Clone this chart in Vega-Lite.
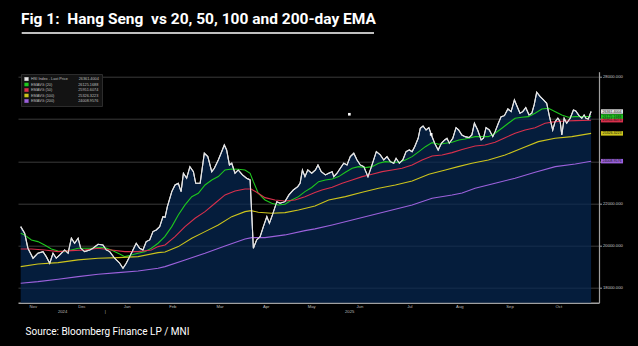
{
  "$schema": "https://vega.github.io/schema/vega-lite/v6.json",
  "width": 581,
  "height": 231,
  "autosize": {"type": "none"},
  "padding": {"left": 18, "top": 71.7, "right": 39, "bottom": 43.3},
  "background": "#000000",
  "title": {
    "text": "Fig 1:\u00a0 Hang Seng\u00a0 vs 20, 50, 100 and 200-day EMA",
    "anchor": "start",
    "frame": "group",
    "color": "#ffffff",
    "font": "Roboto",
    "fontSize": 15.5,
    "fontWeight": "bold",
    "baseline": "alphabetic",
    "offset": 3,
    "dx": 3,
    "dy": 10
  },
  "config": {
    "view": {"stroke": null},
    "axis": {"labelFont": "Liberation Sans", "gridWidth": 0.8, "labelOverlap": false}
  },
  "datasets": {
    "prices": [
      {"d": 0.3, "v": 20906, "s": "HSI Index - Last Price"},
      {"d": 2.0, "v": 20592, "s": "HSI Index - Last Price"},
      {"d": 3.4, "v": 19882, "s": "HSI Index - Last Price"},
      {"d": 5.6, "v": 19408, "s": "HSI Index - Last Price"},
      {"d": 7.7, "v": 19645, "s": "HSI Index - Last Price"},
      {"d": 9.9, "v": 19721, "s": "HSI Index - Last Price"},
      {"d": 11.3, "v": 19484, "s": "HSI Index - Last Price"},
      {"d": 12.8, "v": 19171, "s": "HSI Index - Last Price"},
      {"d": 14.2, "v": 19645, "s": "HSI Index - Last Price"},
      {"d": 15.6, "v": 19408, "s": "HSI Index - Last Price"},
      {"d": 17.1, "v": 19564, "s": "HSI Index - Last Price"},
      {"d": 19.2, "v": 19801, "s": "HSI Index - Last Price"},
      {"d": 20.7, "v": 19645, "s": "HSI Index - Last Price"},
      {"d": 22.1, "v": 20356, "s": "HSI Index - Last Price"},
      {"d": 23.5, "v": 20119, "s": "HSI Index - Last Price"},
      {"d": 25.0, "v": 20356, "s": "HSI Index - Last Price"},
      {"d": 26.1, "v": 19882, "s": "HSI Index - Last Price"},
      {"d": 27.8, "v": 19721, "s": "HSI Index - Last Price"},
      {"d": 30.0, "v": 19801, "s": "HSI Index - Last Price"},
      {"d": 31.4, "v": 19882, "s": "HSI Index - Last Price"},
      {"d": 33.6, "v": 20072, "s": "HSI Index - Last Price"},
      {"d": 35.7, "v": 20038, "s": "HSI Index - Last Price"},
      {"d": 37.1, "v": 19801, "s": "HSI Index - Last Price"},
      {"d": 38.6, "v": 19721, "s": "HSI Index - Last Price"},
      {"d": 40.7, "v": 19408, "s": "HSI Index - Last Price"},
      {"d": 42.9, "v": 19171, "s": "HSI Index - Last Price"},
      {"d": 44.3, "v": 18934, "s": "HSI Index - Last Price"},
      {"d": 45.7, "v": 19171, "s": "HSI Index - Last Price"},
      {"d": 47.9, "v": 19645, "s": "HSI Index - Last Price"},
      {"d": 50.0, "v": 20119, "s": "HSI Index - Last Price"},
      {"d": 51.5, "v": 19882, "s": "HSI Index - Last Price"},
      {"d": 52.9, "v": 19801, "s": "HSI Index - Last Price"},
      {"d": 54.3, "v": 20195, "s": "HSI Index - Last Price"},
      {"d": 55.8, "v": 20275, "s": "HSI Index - Last Price"},
      {"d": 57.2, "v": 20669, "s": "HSI Index - Last Price"},
      {"d": 58.6, "v": 20749, "s": "HSI Index - Last Price"},
      {"d": 60.1, "v": 20906, "s": "HSI Index - Last Price"},
      {"d": 61.5, "v": 21380, "s": "HSI Index - Last Price"},
      {"d": 62.4, "v": 21350, "s": "HSI Index - Last Price"},
      {"d": 63.4, "v": 21854, "s": "HSI Index - Last Price"},
      {"d": 65.3, "v": 22565, "s": "HSI Index - Last Price"},
      {"d": 66.7, "v": 22882, "s": "HSI Index - Last Price"},
      {"d": 68.1, "v": 22962, "s": "HSI Index - Last Price"},
      {"d": 69.3, "v": 22565, "s": "HSI Index - Last Price"},
      {"d": 70.3, "v": 23436, "s": "HSI Index - Last Price"},
      {"d": 71.7, "v": 23199, "s": "HSI Index - Last Price"},
      {"d": 73.1, "v": 23749, "s": "HSI Index - Last Price"},
      {"d": 74.6, "v": 23512, "s": "HSI Index - Last Price"},
      {"d": 75.6, "v": 22962, "s": "HSI Index - Last Price"},
      {"d": 77.5, "v": 22962, "s": "HSI Index - Last Price"},
      {"d": 79.3, "v": 24384, "s": "HSI Index - Last Price"},
      {"d": 80.8, "v": 24223, "s": "HSI Index - Last Price"},
      {"d": 82.5, "v": 23512, "s": "HSI Index - Last Price"},
      {"d": 83.6, "v": 23673, "s": "HSI Index - Last Price"},
      {"d": 85.3, "v": 24067, "s": "HSI Index - Last Price"},
      {"d": 86.5, "v": 24384, "s": "HSI Index - Last Price"},
      {"d": 87.9, "v": 24778, "s": "HSI Index - Last Price"},
      {"d": 88.9, "v": 24541, "s": "HSI Index - Last Price"},
      {"d": 90.1, "v": 23830, "s": "HSI Index - Last Price"},
      {"d": 91.1, "v": 23910, "s": "HSI Index - Last Price"},
      {"d": 92.5, "v": 23436, "s": "HSI Index - Last Price"},
      {"d": 93.9, "v": 23593, "s": "HSI Index - Last Price"},
      {"d": 95.7, "v": 23356, "s": "HSI Index - Last Price"},
      {"d": 97.5, "v": 23199, "s": "HSI Index - Last Price"},
      {"d": 99.0, "v": 23119, "s": "HSI Index - Last Price"},
      {"d": 100.4, "v": 19882, "s": "HSI Index - Last Price"},
      {"d": 101.8, "v": 20275, "s": "HSI Index - Last Price"},
      {"d": 103.3, "v": 20432, "s": "HSI Index - Last Price"},
      {"d": 104.7, "v": 20906, "s": "HSI Index - Last Price"},
      {"d": 106.2, "v": 21380, "s": "HSI Index - Last Price"},
      {"d": 107.3, "v": 21067, "s": "HSI Index - Last Price"},
      {"d": 108.6, "v": 21460, "s": "HSI Index - Last Price"},
      {"d": 110.5, "v": 22090, "s": "HSI Index - Last Price"},
      {"d": 111.9, "v": 22015, "s": "HSI Index - Last Price"},
      {"d": 114.0, "v": 22090, "s": "HSI Index - Last Price"},
      {"d": 115.7, "v": 22408, "s": "HSI Index - Last Price"},
      {"d": 117.6, "v": 22645, "s": "HSI Index - Last Price"},
      {"d": 119.5, "v": 22801, "s": "HSI Index - Last Price"},
      {"d": 120.5, "v": 22962, "s": "HSI Index - Last Price"},
      {"d": 121.5, "v": 23593, "s": "HSI Index - Last Price"},
      {"d": 122.6, "v": 23277, "s": "HSI Index - Last Price"},
      {"d": 123.8, "v": 23593, "s": "HSI Index - Last Price"},
      {"d": 125.5, "v": 23436, "s": "HSI Index - Last Price"},
      {"d": 127.1, "v": 23593, "s": "HSI Index - Last Price"},
      {"d": 128.2, "v": 23830, "s": "HSI Index - Last Price"},
      {"d": 129.6, "v": 23512, "s": "HSI Index - Last Price"},
      {"d": 131.4, "v": 23356, "s": "HSI Index - Last Price"},
      {"d": 132.8, "v": 23436, "s": "HSI Index - Last Price"},
      {"d": 134.3, "v": 23512, "s": "HSI Index - Last Price"},
      {"d": 135.0, "v": 23277, "s": "HSI Index - Last Price"},
      {"d": 136.4, "v": 23436, "s": "HSI Index - Last Price"},
      {"d": 137.8, "v": 23673, "s": "HSI Index - Last Price"},
      {"d": 139.3, "v": 23910, "s": "HSI Index - Last Price"},
      {"d": 140.7, "v": 23830, "s": "HSI Index - Last Price"},
      {"d": 142.1, "v": 24223, "s": "HSI Index - Last Price"},
      {"d": 143.6, "v": 24384, "s": "HSI Index - Last Price"},
      {"d": 145.0, "v": 24067, "s": "HSI Index - Last Price"},
      {"d": 146.4, "v": 23830, "s": "HSI Index - Last Price"},
      {"d": 147.9, "v": 23749, "s": "HSI Index - Last Price"},
      {"d": 149.7, "v": 23277, "s": "HSI Index - Last Price"},
      {"d": 151.2, "v": 23749, "s": "HSI Index - Last Price"},
      {"d": 153.3, "v": 24462, "s": "HSI Index - Last Price"},
      {"d": 155.0, "v": 24304, "s": "HSI Index - Last Price"},
      {"d": 156.5, "v": 24067, "s": "HSI Index - Last Price"},
      {"d": 157.9, "v": 24223, "s": "HSI Index - Last Price"},
      {"d": 159.3, "v": 23986, "s": "HSI Index - Last Price"},
      {"d": 160.8, "v": 23910, "s": "HSI Index - Last Price"},
      {"d": 161.8, "v": 24146, "s": "HSI Index - Last Price"},
      {"d": 163.2, "v": 23910, "s": "HSI Index - Last Price"},
      {"d": 164.7, "v": 24067, "s": "HSI Index - Last Price"},
      {"d": 166.1, "v": 24462, "s": "HSI Index - Last Price"},
      {"d": 167.5, "v": 24541, "s": "HSI Index - Last Price"},
      {"d": 168.7, "v": 24462, "s": "HSI Index - Last Price"},
      {"d": 169.8, "v": 24697, "s": "HSI Index - Last Price"},
      {"d": 171.3, "v": 25095, "s": "HSI Index - Last Price"},
      {"d": 172.2, "v": 25569, "s": "HSI Index - Last Price"},
      {"d": 173.4, "v": 25678, "s": "HSI Index - Last Price"},
      {"d": 174.7, "v": 25488, "s": "HSI Index - Last Price"},
      {"d": 175.9, "v": 25597, "s": "HSI Index - Last Price"},
      {"d": 177.0, "v": 25251, "s": "HSI Index - Last Price"},
      {"d": 178.4, "v": 24858, "s": "HSI Index - Last Price"},
      {"d": 179.9, "v": 24541, "s": "HSI Index - Last Price"},
      {"d": 181.3, "v": 24858, "s": "HSI Index - Last Price"},
      {"d": 182.7, "v": 25014, "s": "HSI Index - Last Price"},
      {"d": 183.7, "v": 25095, "s": "HSI Index - Last Price"},
      {"d": 184.7, "v": 24858, "s": "HSI Index - Last Price"},
      {"d": 186.2, "v": 25095, "s": "HSI Index - Last Price"},
      {"d": 187.6, "v": 25597, "s": "HSI Index - Last Price"},
      {"d": 188.7, "v": 25488, "s": "HSI Index - Last Price"},
      {"d": 190.1, "v": 25251, "s": "HSI Index - Last Price"},
      {"d": 191.5, "v": 25172, "s": "HSI Index - Last Price"},
      {"d": 193.2, "v": 25124, "s": "HSI Index - Last Price"},
      {"d": 194.4, "v": 25251, "s": "HSI Index - Last Price"},
      {"d": 195.5, "v": 25806, "s": "HSI Index - Last Price"},
      {"d": 196.9, "v": 25488, "s": "HSI Index - Last Price"},
      {"d": 198.4, "v": 25014, "s": "HSI Index - Last Price"},
      {"d": 199.4, "v": 25095, "s": "HSI Index - Last Price"},
      {"d": 200.5, "v": 25597, "s": "HSI Index - Last Price"},
      {"d": 201.9, "v": 25488, "s": "HSI Index - Last Price"},
      {"d": 203.4, "v": 25172, "s": "HSI Index - Last Price"},
      {"d": 204.4, "v": 25408, "s": "HSI Index - Last Price"},
      {"d": 205.8, "v": 25806, "s": "HSI Index - Last Price"},
      {"d": 207.0, "v": 26119, "s": "HSI Index - Last Price"},
      {"d": 208.4, "v": 26166, "s": "HSI Index - Last Price"},
      {"d": 209.9, "v": 26483, "s": "HSI Index - Last Price"},
      {"d": 211.3, "v": 26356, "s": "HSI Index - Last Price"},
      {"d": 212.7, "v": 26910, "s": "HSI Index - Last Price"},
      {"d": 214.2, "v": 26517, "s": "HSI Index - Last Price"},
      {"d": 215.1, "v": 26280, "s": "HSI Index - Last Price"},
      {"d": 216.3, "v": 26356, "s": "HSI Index - Last Price"},
      {"d": 217.6, "v": 26545, "s": "HSI Index - Last Price"},
      {"d": 219.0, "v": 26199, "s": "HSI Index - Last Price"},
      {"d": 220.2, "v": 26280, "s": "HSI Index - Last Price"},
      {"d": 221.2, "v": 26673, "s": "HSI Index - Last Price"},
      {"d": 222.3, "v": 27275, "s": "HSI Index - Last Price"},
      {"d": 223.8, "v": 27066, "s": "HSI Index - Last Price"},
      {"d": 225.2, "v": 26910, "s": "HSI Index - Last Price"},
      {"d": 226.6, "v": 26754, "s": "HSI Index - Last Price"},
      {"d": 227.8, "v": 26119, "s": "HSI Index - Last Price"},
      {"d": 229.2, "v": 25488, "s": "HSI Index - Last Price"},
      {"d": 230.2, "v": 25882, "s": "HSI Index - Last Price"},
      {"d": 231.4, "v": 26043, "s": "HSI Index - Last Price"},
      {"d": 232.4, "v": 25882, "s": "HSI Index - Last Price"},
      {"d": 233.1, "v": 25251, "s": "HSI Index - Last Price"},
      {"d": 234.1, "v": 26043, "s": "HSI Index - Last Price"},
      {"d": 235.2, "v": 25806, "s": "HSI Index - Last Price"},
      {"d": 236.7, "v": 26043, "s": "HSI Index - Last Price"},
      {"d": 238.1, "v": 26436, "s": "HSI Index - Last Price"},
      {"d": 239.1, "v": 26388, "s": "HSI Index - Last Price"},
      {"d": 240.5, "v": 26166, "s": "HSI Index - Last Price"},
      {"d": 241.7, "v": 26043, "s": "HSI Index - Last Price"},
      {"d": 242.7, "v": 26199, "s": "HSI Index - Last Price"},
      {"d": 243.5, "v": 26043, "s": "HSI Index - Last Price"},
      {"d": 244.5, "v": 26009, "s": "HSI Index - Last Price"},
      {"d": 245.7, "v": 26361, "s": "HSI Index - Last Price"},

      {"d": 0.3, "v": 20592, "s": "EMAVG (20)"},
      {"d": 2.0, "v": 20513, "s": "EMAVG (20)"},
      {"d": 4.9, "v": 20275, "s": "EMAVG (20)"},
      {"d": 7.7, "v": 20195, "s": "EMAVG (20)"},
      {"d": 10.6, "v": 20038, "s": "EMAVG (20)"},
      {"d": 13.5, "v": 19849, "s": "EMAVG (20)"},
      {"d": 16.4, "v": 19754, "s": "EMAVG (20)"},
      {"d": 19.2, "v": 19721, "s": "EMAVG (20)"},
      {"d": 22.1, "v": 19801, "s": "EMAVG (20)"},
      {"d": 25.0, "v": 19882, "s": "EMAVG (20)"},
      {"d": 27.8, "v": 19882, "s": "EMAVG (20)"},
      {"d": 30.7, "v": 19882, "s": "EMAVG (20)"},
      {"d": 33.6, "v": 19910, "s": "EMAVG (20)"},
      {"d": 36.4, "v": 19910, "s": "EMAVG (20)"},
      {"d": 39.3, "v": 19801, "s": "EMAVG (20)"},
      {"d": 42.2, "v": 19645, "s": "EMAVG (20)"},
      {"d": 45.1, "v": 19484, "s": "EMAVG (20)"},
      {"d": 47.9, "v": 19564, "s": "EMAVG (20)"},
      {"d": 50.8, "v": 19645, "s": "EMAVG (20)"},
      {"d": 53.7, "v": 19721, "s": "EMAVG (20)"},
      {"d": 56.5, "v": 19882, "s": "EMAVG (20)"},
      {"d": 59.4, "v": 20119, "s": "EMAVG (20)"},
      {"d": 62.3, "v": 20432, "s": "EMAVG (20)"},
      {"d": 65.3, "v": 20906, "s": "EMAVG (20)"},
      {"d": 68.1, "v": 21460, "s": "EMAVG (20)"},
      {"d": 71.0, "v": 21934, "s": "EMAVG (20)"},
      {"d": 73.9, "v": 22327, "s": "EMAVG (20)"},
      {"d": 76.7, "v": 22488, "s": "EMAVG (20)"},
      {"d": 79.6, "v": 22882, "s": "EMAVG (20)"},
      {"d": 82.5, "v": 23119, "s": "EMAVG (20)"},
      {"d": 85.3, "v": 23277, "s": "EMAVG (20)"},
      {"d": 88.2, "v": 23593, "s": "EMAVG (20)"},
      {"d": 91.1, "v": 23640, "s": "EMAVG (20)"},
      {"d": 93.9, "v": 23626, "s": "EMAVG (20)"},
      {"d": 96.8, "v": 23593, "s": "EMAVG (20)"},
      {"d": 99.0, "v": 23436, "s": "EMAVG (20)"},
      {"d": 100.4, "v": 23038, "s": "EMAVG (20)"},
      {"d": 102.5, "v": 22488, "s": "EMAVG (20)"},
      {"d": 105.4, "v": 22171, "s": "EMAVG (20)"},
      {"d": 108.3, "v": 22015, "s": "EMAVG (20)"},
      {"d": 111.1, "v": 21934, "s": "EMAVG (20)"},
      {"d": 114.0, "v": 21967, "s": "EMAVG (20)"},
      {"d": 116.9, "v": 22171, "s": "EMAVG (20)"},
      {"d": 119.8, "v": 22327, "s": "EMAVG (20)"},
      {"d": 122.6, "v": 22565, "s": "EMAVG (20)"},
      {"d": 125.5, "v": 22760, "s": "EMAVG (20)"},
      {"d": 128.5, "v": 23038, "s": "EMAVG (20)"},
      {"d": 131.4, "v": 23119, "s": "EMAVG (20)"},
      {"d": 134.3, "v": 23166, "s": "EMAVG (20)"},
      {"d": 137.1, "v": 23277, "s": "EMAVG (20)"},
      {"d": 140.0, "v": 23484, "s": "EMAVG (20)"},
      {"d": 142.9, "v": 23673, "s": "EMAVG (20)"},
      {"d": 145.7, "v": 23749, "s": "EMAVG (20)"},
      {"d": 148.6, "v": 23702, "s": "EMAVG (20)"},
      {"d": 151.5, "v": 23749, "s": "EMAVG (20)"},
      {"d": 154.3, "v": 23910, "s": "EMAVG (20)"},
      {"d": 157.2, "v": 23986, "s": "EMAVG (20)"},
      {"d": 160.1, "v": 23957, "s": "EMAVG (20)"},
      {"d": 162.9, "v": 23957, "s": "EMAVG (20)"},
      {"d": 165.8, "v": 24067, "s": "EMAVG (20)"},
      {"d": 168.7, "v": 24223, "s": "EMAVG (20)"},
      {"d": 171.6, "v": 24462, "s": "EMAVG (20)"},
      {"d": 174.4, "v": 24697, "s": "EMAVG (20)"},
      {"d": 177.3, "v": 24887, "s": "EMAVG (20)"},
      {"d": 180.2, "v": 24811, "s": "EMAVG (20)"},
      {"d": 183.0, "v": 24858, "s": "EMAVG (20)"},
      {"d": 185.9, "v": 24906, "s": "EMAVG (20)"},
      {"d": 188.8, "v": 25014, "s": "EMAVG (20)"},
      {"d": 191.5, "v": 25062, "s": "EMAVG (20)"},
      {"d": 192.9, "v": 25095, "s": "EMAVG (20)"},
      {"d": 195.8, "v": 25172, "s": "EMAVG (20)"},
      {"d": 198.7, "v": 25172, "s": "EMAVG (20)"},
      {"d": 201.5, "v": 25172, "s": "EMAVG (20)"},
      {"d": 204.4, "v": 25332, "s": "EMAVG (20)"},
      {"d": 207.3, "v": 25569, "s": "EMAVG (20)"},
      {"d": 210.1, "v": 25806, "s": "EMAVG (20)"},
      {"d": 213.0, "v": 26043, "s": "EMAVG (20)"},
      {"d": 215.9, "v": 26090, "s": "EMAVG (20)"},
      {"d": 218.7, "v": 26119, "s": "EMAVG (20)"},
      {"d": 221.6, "v": 26280, "s": "EMAVG (20)"},
      {"d": 224.5, "v": 26483, "s": "EMAVG (20)"},
      {"d": 227.4, "v": 26517, "s": "EMAVG (20)"},
      {"d": 230.3, "v": 26356, "s": "EMAVG (20)"},
      {"d": 233.1, "v": 26199, "s": "EMAVG (20)"},
      {"d": 235.9, "v": 26090, "s": "EMAVG (20)"},
      {"d": 238.8, "v": 26119, "s": "EMAVG (20)"},
      {"d": 241.7, "v": 26119, "s": "EMAVG (20)"},
      {"d": 245.7, "v": 26125, "s": "EMAVG (20)"},

      {"d": 0.3, "v": 19849, "s": "EMAVG (50)"},
      {"d": 4.9, "v": 19849, "s": "EMAVG (50)"},
      {"d": 10.6, "v": 19801, "s": "EMAVG (50)"},
      {"d": 16.4, "v": 19721, "s": "EMAVG (50)"},
      {"d": 22.1, "v": 19770, "s": "EMAVG (50)"},
      {"d": 27.8, "v": 19801, "s": "EMAVG (50)"},
      {"d": 33.6, "v": 19882, "s": "EMAVG (50)"},
      {"d": 39.3, "v": 19801, "s": "EMAVG (50)"},
      {"d": 45.1, "v": 19721, "s": "EMAVG (50)"},
      {"d": 50.8, "v": 19721, "s": "EMAVG (50)"},
      {"d": 56.5, "v": 19801, "s": "EMAVG (50)"},
      {"d": 59.4, "v": 19958, "s": "EMAVG (50)"},
      {"d": 62.4, "v": 20038, "s": "EMAVG (50)"},
      {"d": 66.7, "v": 20432, "s": "EMAVG (50)"},
      {"d": 71.0, "v": 20906, "s": "EMAVG (50)"},
      {"d": 75.3, "v": 21303, "s": "EMAVG (50)"},
      {"d": 79.6, "v": 21617, "s": "EMAVG (50)"},
      {"d": 83.9, "v": 22015, "s": "EMAVG (50)"},
      {"d": 88.2, "v": 22408, "s": "EMAVG (50)"},
      {"d": 92.5, "v": 22597, "s": "EMAVG (50)"},
      {"d": 96.8, "v": 22692, "s": "EMAVG (50)"},
      {"d": 99.4, "v": 22692, "s": "EMAVG (50)"},
      {"d": 102.5, "v": 22488, "s": "EMAVG (50)"},
      {"d": 105.4, "v": 22280, "s": "EMAVG (50)"},
      {"d": 109.7, "v": 22171, "s": "EMAVG (50)"},
      {"d": 114.0, "v": 22124, "s": "EMAVG (50)"},
      {"d": 118.3, "v": 22171, "s": "EMAVG (50)"},
      {"d": 122.6, "v": 22327, "s": "EMAVG (50)"},
      {"d": 126.9, "v": 22520, "s": "EMAVG (50)"},
      {"d": 129.9, "v": 22645, "s": "EMAVG (50)"},
      {"d": 134.3, "v": 22772, "s": "EMAVG (50)"},
      {"d": 138.6, "v": 22962, "s": "EMAVG (50)"},
      {"d": 142.9, "v": 23119, "s": "EMAVG (50)"},
      {"d": 147.2, "v": 23277, "s": "EMAVG (50)"},
      {"d": 151.5, "v": 23389, "s": "EMAVG (50)"},
      {"d": 155.8, "v": 23512, "s": "EMAVG (50)"},
      {"d": 160.1, "v": 23593, "s": "EMAVG (50)"},
      {"d": 164.4, "v": 23673, "s": "EMAVG (50)"},
      {"d": 168.7, "v": 23830, "s": "EMAVG (50)"},
      {"d": 173.0, "v": 24067, "s": "EMAVG (50)"},
      {"d": 177.3, "v": 24256, "s": "EMAVG (50)"},
      {"d": 181.6, "v": 24304, "s": "EMAVG (50)"},
      {"d": 185.9, "v": 24413, "s": "EMAVG (50)"},
      {"d": 190.2, "v": 24560, "s": "EMAVG (50)"},
      {"d": 195.8, "v": 24730, "s": "EMAVG (50)"},
      {"d": 200.1, "v": 24778, "s": "EMAVG (50)"},
      {"d": 204.4, "v": 24906, "s": "EMAVG (50)"},
      {"d": 208.7, "v": 25124, "s": "EMAVG (50)"},
      {"d": 213.0, "v": 25332, "s": "EMAVG (50)"},
      {"d": 217.3, "v": 25488, "s": "EMAVG (50)"},
      {"d": 221.6, "v": 25597, "s": "EMAVG (50)"},
      {"d": 225.9, "v": 25806, "s": "EMAVG (50)"},
      {"d": 230.3, "v": 25882, "s": "EMAVG (50)"},
      {"d": 234.6, "v": 25915, "s": "EMAVG (50)"},
      {"d": 238.9, "v": 25929, "s": "EMAVG (50)"},
      {"d": 245.7, "v": 25952, "s": "EMAVG (50)"},

      {"d": 0.3, "v": 19010, "s": "EMAVG (100)"},
      {"d": 7.7, "v": 19138, "s": "EMAVG (100)"},
      {"d": 16.4, "v": 19200, "s": "EMAVG (100)"},
      {"d": 25.0, "v": 19328, "s": "EMAVG (100)"},
      {"d": 33.6, "v": 19408, "s": "EMAVG (100)"},
      {"d": 42.2, "v": 19437, "s": "EMAVG (100)"},
      {"d": 50.8, "v": 19484, "s": "EMAVG (100)"},
      {"d": 59.4, "v": 19673, "s": "EMAVG (100)"},
      {"d": 62.4, "v": 19700, "s": "EMAVG (100)"},
      {"d": 68.1, "v": 19958, "s": "EMAVG (100)"},
      {"d": 73.9, "v": 20356, "s": "EMAVG (100)"},
      {"d": 79.6, "v": 20669, "s": "EMAVG (100)"},
      {"d": 85.3, "v": 20986, "s": "EMAVG (100)"},
      {"d": 91.1, "v": 21380, "s": "EMAVG (100)"},
      {"d": 96.8, "v": 21617, "s": "EMAVG (100)"},
      {"d": 99.4, "v": 21664, "s": "EMAVG (100)"},
      {"d": 102.5, "v": 21588, "s": "EMAVG (100)"},
      {"d": 108.3, "v": 21540, "s": "EMAVG (100)"},
      {"d": 114.0, "v": 21570, "s": "EMAVG (100)"},
      {"d": 119.8, "v": 21697, "s": "EMAVG (100)"},
      {"d": 126.9, "v": 21887, "s": "EMAVG (100)"},
      {"d": 132.8, "v": 22171, "s": "EMAVG (100)"},
      {"d": 140.0, "v": 22327, "s": "EMAVG (100)"},
      {"d": 147.2, "v": 22535, "s": "EMAVG (100)"},
      {"d": 154.3, "v": 22725, "s": "EMAVG (100)"},
      {"d": 161.5, "v": 22882, "s": "EMAVG (100)"},
      {"d": 168.7, "v": 23071, "s": "EMAVG (100)"},
      {"d": 175.9, "v": 23389, "s": "EMAVG (100)"},
      {"d": 183.0, "v": 23593, "s": "EMAVG (100)"},
      {"d": 188.5, "v": 23750, "s": "EMAVG (100)"},
      {"d": 194.4, "v": 23910, "s": "EMAVG (100)"},
      {"d": 201.5, "v": 24067, "s": "EMAVG (100)"},
      {"d": 208.7, "v": 24304, "s": "EMAVG (100)"},
      {"d": 215.9, "v": 24621, "s": "EMAVG (100)"},
      {"d": 223.0, "v": 24934, "s": "EMAVG (100)"},
      {"d": 230.2, "v": 25095, "s": "EMAVG (100)"},
      {"d": 237.4, "v": 25172, "s": "EMAVG (100)"},
      {"d": 245.7, "v": 25326, "s": "EMAVG (100)"},

      {"d": 0.3, "v": 18223, "s": "EMAVG (200)"},
      {"d": 7.7, "v": 18299, "s": "EMAVG (200)"},
      {"d": 16.4, "v": 18413, "s": "EMAVG (200)"},
      {"d": 25.0, "v": 18536, "s": "EMAVG (200)"},
      {"d": 33.6, "v": 18650, "s": "EMAVG (200)"},
      {"d": 42.2, "v": 18725, "s": "EMAVG (200)"},
      {"d": 50.8, "v": 18806, "s": "EMAVG (200)"},
      {"d": 59.4, "v": 18934, "s": "EMAVG (200)"},
      {"d": 62.4, "v": 19010, "s": "EMAVG (200)"},
      {"d": 71.0, "v": 19328, "s": "EMAVG (200)"},
      {"d": 79.6, "v": 19645, "s": "EMAVG (200)"},
      {"d": 88.2, "v": 19991, "s": "EMAVG (200)"},
      {"d": 96.8, "v": 20323, "s": "EMAVG (200)"},
      {"d": 99.7, "v": 20384, "s": "EMAVG (200)"},
      {"d": 105.4, "v": 20384, "s": "EMAVG (200)"},
      {"d": 114.0, "v": 20513, "s": "EMAVG (200)"},
      {"d": 122.6, "v": 20716, "s": "EMAVG (200)"},
      {"d": 126.9, "v": 20800, "s": "EMAVG (200)"},
      {"d": 134.3, "v": 20986, "s": "EMAVG (200)"},
      {"d": 142.9, "v": 21223, "s": "EMAVG (200)"},
      {"d": 151.5, "v": 21460, "s": "EMAVG (200)"},
      {"d": 160.1, "v": 21697, "s": "EMAVG (200)"},
      {"d": 168.7, "v": 21934, "s": "EMAVG (200)"},
      {"d": 177.3, "v": 22251, "s": "EMAVG (200)"},
      {"d": 185.9, "v": 22408, "s": "EMAVG (200)"},
      {"d": 190.2, "v": 22500, "s": "EMAVG (200)"},
      {"d": 195.8, "v": 22725, "s": "EMAVG (200)"},
      {"d": 204.4, "v": 22962, "s": "EMAVG (200)"},
      {"d": 213.0, "v": 23199, "s": "EMAVG (200)"},
      {"d": 221.6, "v": 23484, "s": "EMAVG (200)"},
      {"d": 230.3, "v": 23749, "s": "EMAVG (200)"},
      {"d": 238.9, "v": 23877, "s": "EMAVG (200)"},
      {"d": 245.7, "v": 24009, "s": "EMAVG (200)"}
    ],
    "last": [
      {"s": "EMAVG (200)", "v": 24008.9576},
      {"s": "EMAVG (100)", "v": 25326.3223},
      {"s": "EMAVG (50)", "v": 25951.6074},
      {"s": "EMAVG (20)", "v": 26125.1688},
      {"s": "HSI Index - Last Price", "v": 26361.4004}
    ],
    "markers": [
      {"d": 141.7, "v": 26232},
      {"d": 176.9, "v": 25280}
    ]
  },
  "layer": [
    {
      "data": {"name": "prices"},
      "transform": [{"filter": "datum.s === 'HSI Index - Last Price'"}],
      "mark": {"type": "area", "color": "#072853", "opacity": 0.72, "line": false},
      "encoding": {
        "x": {
          "field": "d", "type": "quantitative",
          "scale": {"domain": [-0.86, 249.1], "nice": false, "zero": false},
          "axis": {
            "values": [5.5, 16.7, 18.1, 22, 26.4, 31, 36.5, 36.7, 45.9, 55.7, 65.5, 75.7, 85.9, 96.7, 105.7, 115.7, 125.3, 135.7, 141.6, 143.5, 146, 156.7, 167.5, 178.7, 189, 199.7, 210.6, 221.7, 231.6, 241.7],
            "labelExpr": "datum.value == 5.5 ? 'Nov' : datum.value == 26.4 ? 'Dec' : datum.value == 45.9 ? 'Jan' : datum.value == 65.5 ? 'Feb' : datum.value == 85.9 ? 'Mar' : datum.value == 105.7 ? 'Apr' : datum.value == 125.3 ? 'May' : datum.value == 146 ? 'Jun' : datum.value == 167.5 ? 'Jul' : datum.value == 189 ? 'Aug' : datum.value == 210.6 ? 'Sep' : datum.value == 231.6 ? 'Oct' : datum.value == 18.1 ? ['', '2024'] : datum.value == 141.6 ? ['', '2025'] : datum.value == 36.5 ? ['', '|'] : ''",
            "labelOverlap": false,
            "labelFlush": false,
            "labelBound": false,
            "labelSeparation": 0,
            "labelFontSize": 4.2,
            "labelLineHeight": 5,
            "labelColor": "#bdbdbd",
            "labelBaseline": "top",
            "labelPadding": -1.7,
            "tickSize": 3,
            "tickColor": "#9a9a9a",
            "tickOpacity": {"condition": {"test": "indexof([16.7,36.7,55.7,75.7,96.7,115.7,135.7,156.7,178.7,199.7,221.7,241.7], datum.value) >= 0", "value": 1}, "value": 0},
            "grid": true,
            "gridColor": "#4a4a4a",
            "gridOpacity": {"condition": {"test": "indexof([16.7,36.7,55.7,75.7,96.7,115.7,135.7,156.7,178.7,199.7,221.7,241.7], datum.value) >= 0", "value": 1}, "value": 0},
            "domainColor": "#a0a0a0",
            "domainWidth": 1.5,
            "title": "Source: Bloomberg Finance LP / MNI",
            "titleFont": "Roboto",
            "titleFontSize": 10,
            "titleFontWeight": "normal",
            "titleColor": "#ffffff",
            "titleAnchor": "start",
            "titleAlign": "left",
            "titleBaseline": "alphabetic",
            "titleX": 7,
            "titleY": 32
          }
        },
        "y": {
          "field": "v", "type": "quantitative",
          "scale": {"domain": [17300, 28250], "nice": false, "zero": false},
          "axis": {
            "orient": "right",
            "values": [18000, 19000, 20000, 21000, 22000, 23000, 24000, 25000, 26000, 27000, 28000],
            "labelExpr": "datum.value % 2000 == 0 ? format(datum.value, '.3f') : ''",
            "labelOverlap": false,
            "labelFlush": false,
            "labelFontSize": 4.2,
            "labelColor": "#c8c8c8",
            "labelPadding": 1,
            "tickSize": 2.5,
            "tickColor": "#9a9a9a",
            "grid": true,
            "gridColor": "#4a4a4a",
            "gridOpacity": {"condition": {"test": "datum.value % 2000 == 0", "value": 1}, "value": 0},
            "domainColor": "#a0a0a0",
            "domainWidth": 1.2,
            "title": null
          }
        },
        "y2": {"datum": 17300}
      }
    },
    {
      "data": {"name": "prices"},
      "mark": {"type": "line", "strokeWidth": 1.1, "interpolate": "linear"},
      "encoding": {
        "x": {"field": "d", "type": "quantitative"},
        "y": {"field": "v", "type": "quantitative"},
        "color": {
          "field": "s", "type": "nominal",
          "scale": {
            "domain": ["HSI Index - Last Price", "EMAVG (20)", "EMAVG (50)", "EMAVG (100)", "EMAVG (200)"],
            "range": ["#e4e4e4", "#1ec81e", "#d8304c", "#cdc41c", "#9c61dc"]
          },
          "legend": {
            "orient": "none",
            "legendX": 3,
            "legendY": 2.3,
            "title": null,
            "fillColor": "#131313",
            "strokeColor": "#2c2c2c",
            "padding": 3,
            "symbolType": "square",
            "symbolSize": 14,
            "symbolStrokeWidth": 0,
            "clipHeight": 4,
            "labelFontSize": 3.8,
            "labelFont": "Liberation Sans",
            "labelColor": "#bdbdbd",
            "labelOffset": 2,
            "labelLimit": 300,
            "rowPadding": 1.5,
            "labelExpr": "datum.label + ({'HSI Index - Last Price': '\u2003\u2003\u00a0\u00a0\u00a026361.4004', 'EMAVG (20)': '\u2003\u2003\u2003\u2003\u2003\u2003\u00a0\u00a0\u00a026125.1688', 'EMAVG (50)': '\u2003\u2003\u2003\u2003\u2003\u2003\u00a0\u00a0\u00a025951.6074', 'EMAVG (100)': '\u2003\u2003\u2003\u2003\u2003\u2003\u00a025326.3223', 'EMAVG (200)': '\u2003\u2003\u2003\u2003\u2003\u2003\u00a024008.9576'})[datum.label]",
            "encode": {
              "symbols": {
                "update": {
                  "fill": {"scale": "color", "field": "value"},
                  "stroke": {"value": "#dddddd"},
                  "strokeWidth": {"value": 0.4},
                  "opacity": {"value": 1}
                }
              }
            }
          }
        }
      }
    },
    {
      "data": {"name": "prices"},
      "transform": [{"filter": "datum.s === 'HSI Index - Last Price'"}],
      "mark": {"type": "line", "strokeWidth": 1.1, "color": "#e4e4e4"},
      "encoding": {
        "x": {"field": "d", "type": "quantitative"},
        "y": {"field": "v", "type": "quantitative"}
      }
    },
    {
      "data": {"name": "markers"},
      "mark": {"type": "point", "shape": "square", "filled": true, "color": "#ffffff", "size": 7, "opacity": 1},
      "encoding": {
        "x": {"field": "d", "type": "quantitative"},
        "y": {"field": "v", "type": "quantitative"}
      }
    },
    {
      "data": {"name": "last"},
      "mark": {"type": "tick", "orient": "horizontal", "size": 22, "thickness": 4.5, "opacity": 1},
      "encoding": {
        "x": {"datum": 254.7, "type": "quantitative"},
        "y": {"field": "v", "type": "quantitative"},
        "color": {"field": "s", "type": "nominal"}
      }
    },
    {
      "data": {"name": "last"},
      "mark": {"type": "text", "fontSize": 3.6, "font": "Liberation Sans", "color": "#111111", "align": "center", "baseline": "middle"},
      "encoding": {
        "x": {"datum": 254.7, "type": "quantitative"},
        "y": {"field": "v", "type": "quantitative"},
        "text": {"field": "v", "type": "quantitative", "format": ".4f"}
      }
    },
    {
      "data": {"values": [{}]},
      "mark": {"type": "rule", "color": "#ffffff", "strokeWidth": 1.3},
      "encoding": {
        "x": {"datum": 0.73, "type": "quantitative"},
        "x2": {"datum": 152.3},
        "y": {"datum": 30085, "type": "quantitative"}
      }
    }
  ]
}
